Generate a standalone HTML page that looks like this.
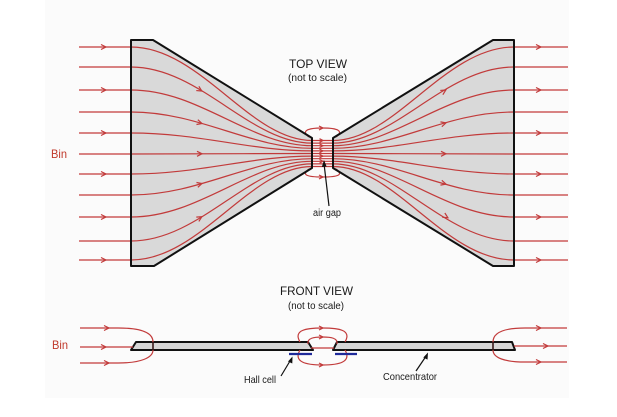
<!DOCTYPE html>
<html><head><meta charset="utf-8"><style>
html,body{margin:0;padding:0;background:#fff;}
svg{display:block;}
text{font-family:"Liberation Sans",Arial,sans-serif;}
</style></head><body>
<svg width="617" height="417" viewBox="0 0 617 417" xmlns="http://www.w3.org/2000/svg">
<rect x="0" y="0" width="617" height="417" fill="#fff"/>
<rect x="45" y="0" width="524" height="398" fill="#fbfbfb"/>

<!-- TOP VIEW fills -->
<polygon points="131,40 153,40 312,138 312,168 154,266 131,266" fill="#d9d9d9"/>
<polygon points="514,40 493,40 333,138 333,168 493,266 514,266" fill="#d9d9d9"/>

<!-- field lines top view -->
<g fill="none" stroke="#c23b3b" stroke-width="1.2">
<path d="M79,47 L131,47 C200,47 250,140.5 312,140.5 L333,140.5 C395,140.5 445,47 514,47 L568,47"/>
<path d="M79,67 L131,67 C200,67 250,143.1 312,143.1 L333,143.1 C395,143.1 445,67 514,67 L568,67"/>
<path d="M79,90 L131,90 C200,90 250,145.7 312,145.7 L333,145.7 C395,145.7 445,90 514,90 L568,90"/>
<path d="M79,112 L131,112 C200,112 250,148.3 312,148.3 L333,148.3 C395,148.3 445,112 514,112 L568,112"/>
<path d="M79,133 L131,133 C200,133 250,150.9 312,150.9 L333,150.9 C395,150.9 445,133 514,133 L568,133"/>
<path d="M79,154 L131,154 C200,154 250,153.5 312,153.5 L333,153.5 C395,153.5 445,154 514,154 L568,154"/>
<path d="M79,174 L131,174 C200,174 250,156.1 312,156.1 L333,156.1 C395,156.1 445,174 514,174 L568,174"/>
<path d="M79,195 L131,195 C200,195 250,158.7 312,158.7 L333,158.7 C395,158.7 445,195 514,195 L568,195"/>
<path d="M79,217 L131,217 C200,217 250,161.3 312,161.3 L333,161.3 C395,161.3 445,217 514,217 L568,217"/>
<path d="M79,241 L131,241 C200,241 250,163.9 312,163.9 L333,163.9 C395,163.9 445,241 514,241 L568,241"/>
<path d="M79,260 L131,260 C200,260 250,166.5 312,166.5 L333,166.5 C395,166.5 445,260 514,260 L568,260"/>
<!-- gap fringing arcs -->
<path d="M309,137 C301,131 307,128 322.5,128 C338,128 344,131 336,137"/>
<path d="M309,169 C301,175 307,177 322.5,177 C338,177 344,175 336,169"/>
</g>

<!-- arrows top view -->
<g fill="none" stroke="#c23b3b" stroke-width="1.2">
<path d="M101,44.5 L106,47 L101,49.5"/>
<path d="M101,87.5 L106,90 L101,92.5"/>
<path d="M101,130.5 L106,133 L101,135.5"/>
<path d="M101,171.5 L106,174 L101,176.5"/>
<path d="M101,214.5 L106,217 L101,219.5"/>
<path d="M101,257.5 L106,260 L101,262.5"/>
<g transform="translate(201,90.5) rotate(31)"><path d="M-4,-2.5 L1,0 L-4,2.5"/></g>
<g transform="translate(201,123.2) rotate(16)"><path d="M-4,-2.5 L1,0 L-4,2.5"/></g>
<g transform="translate(201,153.8)"><path d="M-4,-2.5 L1,0 L-4,2.5"/></g>
<g transform="translate(201,183.8) rotate(-16)"><path d="M-4,-2.5 L1,0 L-4,2.5"/></g>
<g transform="translate(201,217.2) rotate(-31)"><path d="M-4,-2.5 L1,0 L-4,2.5"/></g>
<g transform="translate(445,90.5) rotate(-31)"><path d="M-4,-2.5 L1,0 L-4,2.5"/></g>
<g transform="translate(445,123.2) rotate(-16)"><path d="M-4,-2.5 L1,0 L-4,2.5"/></g>
<g transform="translate(445,153.8)"><path d="M-4,-2.5 L1,0 L-4,2.5"/></g>
<g transform="translate(445,183.8) rotate(16)"><path d="M-4,-2.5 L1,0 L-4,2.5"/></g>
<g transform="translate(447,217.2) rotate(31)"><path d="M-4,-2.5 L1,0 L-4,2.5"/></g>
<path d="M536,44.5 L541,47 L536,49.5"/>
<path d="M536,87.5 L541,90 L536,92.5"/>
<path d="M536,130.5 L541,133 L536,135.5"/>
<path d="M536,171.5 L541,174 L536,176.5"/>
<path d="M536,214.5 L541,217 L536,219.5"/>
<path d="M536,257.5 L541,260 L536,262.5"/>
<!-- gap arrows -->
<path d="M319,126 L323,128 L319,130"/>
<path d="M319,175 L323,177 L319,179"/>
<path d="M319.5,138.7 L323,140.5 L319.5,142.3"/>
<path d="M319.5,143.9 L323,145.7 L319.5,147.5"/>
<path d="M319.5,149.1 L323,150.9 L319.5,152.7"/>
<path d="M319.5,154.3 L323,156.1 L319.5,157.9"/>
<path d="M319.5,159.5 L323,161.3 L319.5,163.1"/>
</g>

<!-- trapezoid outlines -->
<polygon points="131,40 153,40 312,138 312,168 154,266 131,266" fill="none" stroke="#111" stroke-width="2" stroke-linejoin="round"/>
<polygon points="514,40 493,40 333,138 333,168 493,266 514,266" fill="none" stroke="#111" stroke-width="2" stroke-linejoin="round"/>

<!-- air gap pointer -->
<line x1="329" y1="206" x2="324.3" y2="166" stroke="#111" stroke-width="1.2"/>
<polygon points="324,160 321.8,167 326.6,166.5" fill="#111"/>

<!-- labels top -->
<text x="289" y="68" font-size="12" fill="#1a1a1a" textLength="58" lengthAdjust="spacingAndGlyphs">TOP VIEW</text>
<text x="288" y="81" font-size="10.5" fill="#1a1a1a" textLength="59" lengthAdjust="spacingAndGlyphs">(not to scale)</text>
<text x="51" y="158" font-size="12" fill="#c0392b" textLength="16" lengthAdjust="spacingAndGlyphs">Bin</text>
<text x="313" y="216" font-size="10" fill="#1a1a1a" textLength="28" lengthAdjust="spacingAndGlyphs">air gap</text>

<!-- FRONT VIEW -->
<text x="280" y="295" font-size="12" fill="#1a1a1a" textLength="73" lengthAdjust="spacingAndGlyphs">FRONT VIEW</text>
<text x="288" y="309" font-size="10.5" fill="#1a1a1a" textLength="56" lengthAdjust="spacingAndGlyphs">(not to scale)</text>
<text x="52" y="349" font-size="12" fill="#c0392b" textLength="16" lengthAdjust="spacingAndGlyphs">Bin</text>

<!-- bars -->
<polygon points="131,350 136,342 308,342 313,350" fill="#d6d6d6" stroke="#111" stroke-width="2" stroke-linejoin="round"/>
<polygon points="333,350 337,342 512,342 515,350" fill="#d6d6d6" stroke="#111" stroke-width="2" stroke-linejoin="round"/>

<!-- front field lines -->
<g fill="none" stroke="#c23b3b" stroke-width="1.2">
<path d="M80,328 L118,328 C140,328 153,332 153,342"/>
<path d="M153,350 C153,358 140,363 118,363 L80,363"/>
<path d="M80,347 L133,347"/>
<path d="M493,342 C493,332 505,328 525,328 L567,328"/>
<path d="M493,350 C493,358 505,362 525,362 L567,362"/>
<path d="M514,346 L567,346"/>
<path d="M300,342 C293,330 306,328 322.5,328 C339,328 352,330 345,342"/>
<path d="M300,350 C293,362 306,365 322.5,365 C339,365 352,362 345,350"/>
<path d="M308,344 C307,338 314,337 322.5,337 C331,337 338,338 337,344"/>
<path d="M311,348 L334,348"/>
<path d="M104,325.5 L109,328 L104,330.5"/>
<path d="M101,344.5 L106,347 L101,349.5"/>
<path d="M104,360.5 L109,363 L104,365.5"/>
<path d="M536,325.5 L541,328 L536,330.5"/>
<path d="M543,343.5 L548,346 L543,348.5"/>
<path d="M536,359.5 L541,362 L536,364.5"/>
<path d="M319,326 L323,328 L319,330"/>
<path d="M319,335 L323,337 L319,339"/>
<path d="M319,363 L323,365 L319,367"/>
</g>
<line x1="153" y1="342" x2="153" y2="350" stroke="#3a1a1a" stroke-width="1.6"/>
<line x1="493" y1="342" x2="493" y2="350" stroke="#3a1a1a" stroke-width="1.6"/>

<!-- hall cells -->
<line x1="289" y1="354" x2="312" y2="354" stroke="#1f2a9a" stroke-width="2.2"/>
<line x1="335" y1="354" x2="357" y2="354" stroke="#1f2a9a" stroke-width="2.2"/>

<!-- pointers -->
<line x1="281" y1="376" x2="290" y2="361" stroke="#111" stroke-width="1.2"/>
<polygon points="292.5,356.5 288,361.5 292.3,363.5" fill="#111"/>
<line x1="416" y1="371" x2="425.5" y2="357" stroke="#111" stroke-width="1.2"/>
<polygon points="428,352.5 423.3,357.5 427.5,359.6" fill="#111"/>

<text x="244" y="383" font-size="10.5" fill="#1a1a1a" textLength="32" lengthAdjust="spacingAndGlyphs">Hall cell</text>
<text x="383" y="380" font-size="10.5" fill="#1a1a1a" textLength="54" lengthAdjust="spacingAndGlyphs">Concentrator</text>
</svg>
</body></html>
